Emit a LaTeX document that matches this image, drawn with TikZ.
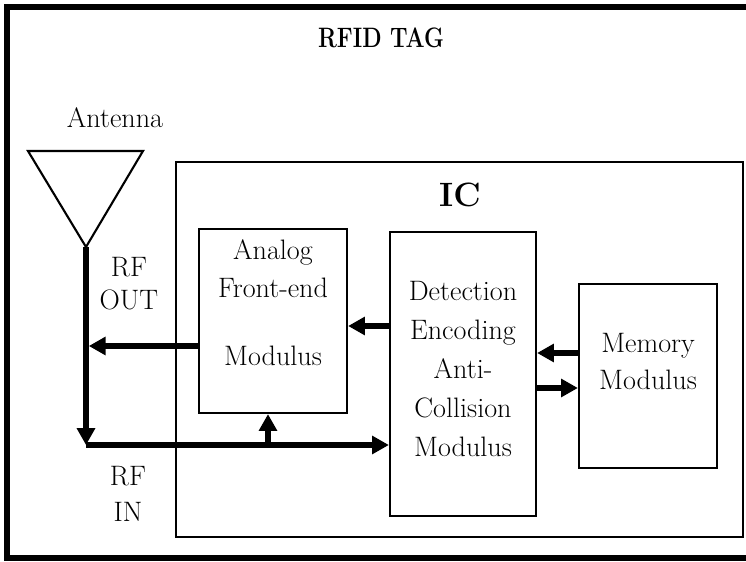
\documentclass[tikz,border=0pt]{standalone}
\usepackage{fontspec}
\usetikzlibrary{arrows.meta}
\begin{document}
\begin{tikzpicture}[
    box/.style={draw,line width=1.6pt,inner sep=0pt},
    txt/.style={align=center,font=\fontsize{20}{27.7}\selectfont},
    bus/.style={line width=3.6pt,-{Triangle[length=0.42cm,width=0.44cm]}}
    ]
        %固定画布大小
        \useasboundingbox (0,0) rectangle (18.65,14.025);
        %画外框和标题
        \draw[line width=4pt] (0.175,0.075) rectangle (19,13.85);
        \node[font=\fontsize{20}{24}\selectfont\bfseries] (tag) at (9.525,13.075) {\scalebox{0.8}[1]{RFID TAG}};
        %画IC框
        \node[box,line width=1.9pt,minimum width=14.175cm,minimum height=9.375cm] (ic) at (11.4875,5.2875) {};
        \node[font=\fontsize{24}{28}\selectfont\bfseries] (iclabel) at (11.5,9.15) {IC};
        %画天线
        \node[txt] (ant) at (2.875,11.09) {Antenna};
        \draw[line width=1.5pt] (0.7,10.25) -- (3.575,10.25) -- (2.15,7.85) -- cycle;
        \coordinate (apex) at (2.15,7.85);
        %画三个模块
        \node[box,minimum width=3.7cm,minimum height=4.6cm] (afe) at (6.825,6.0) {};
        \node[box,minimum width=3.65cm,minimum height=7.1cm] (dec) at (11.575,4.675) {};
        \node[box,minimum width=3.45cm,minimum height=4.6cm] (mem) at (16.2,4.625) {};
        %模块文字
        \node[txt] (afetxt) at (6.825,6.46) {Analog\\Front-end\\[20.6pt]Modulus};
        \node[txt] (dectxt) at (11.575,4.8) {Detection\\Encoding\\Anti-\\Collision\\Modulus};
        \node[txt,font=\fontsize{20}{26.3}\selectfont] (memtxt) at (16.2,4.99) {Memory\\Modulus};
        %标RF OUT和RF IN
        \node[txt,font=\fontsize{20}{23.5}\selectfont] (rfout) at (3.225,6.94) {RF\\OUT};
        \node[txt,font=\fontsize{20}{25.6}\selectfont] (rfin) at (3.2,1.675) {RF\\IN};
        %连线用的点
        \coordinate (corner) at (2.15,2.9);
        \coordinate (back) at (2.22,5.375);
        \coordinate (tap) at (6.7,2.9);
        \coordinate (d2a) at ([yshift=1.2cm]dec.west);
        \coordinate (m2d) at ([yshift=0.575cm]mem.west);
        \coordinate (d2m) at ([yshift=-0.35cm]dec.east);
        %画箭头
        \draw[bus] (apex) -- (corner);
        \draw[bus] (corner) -- (dec.west |- corner);
        \draw[bus] (tap) -- (afe.south -| tap);
        \draw[bus] (afe.west |- back) -- (back);
        \draw[bus] (d2a) -- (d2a -| afe.east);
        \draw[bus] (m2d) -- (m2d -| dec.east);
        \draw[bus] (d2m) -- (d2m -| mem.west);
\end{tikzpicture}
\end{document}
